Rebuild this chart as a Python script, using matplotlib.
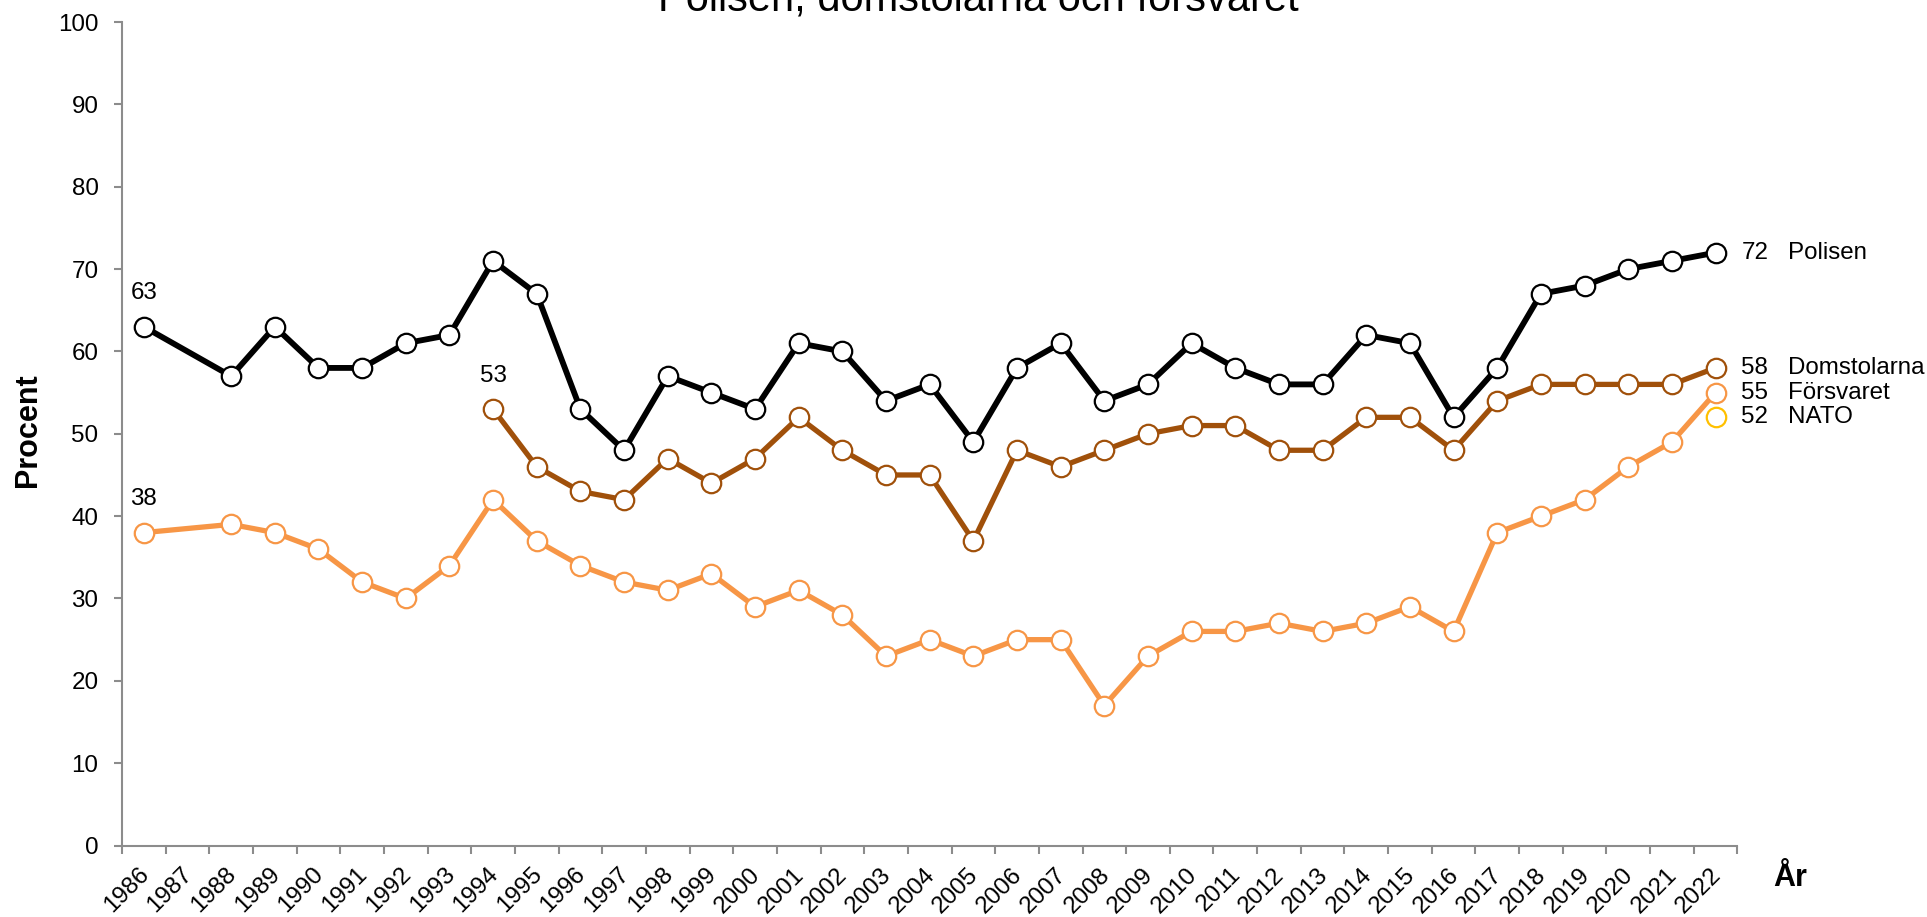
import numpy as np
import matplotlib
matplotlib.use("Agg")
import matplotlib.pyplot as plt
from matplotlib.transforms import ScaledTranslation

plt.rcParams['font.family'] = ['Liberation Sans', 'DejaVu Sans']

years = list(range(1986, 2023))
nan = np.nan

polisen = [63, nan, 57, 63, 58, 58, 61, 62, 71, 67, 53, 48, 57, 55, 53, 61, 60, 54, 56, 49,
           58, 61, 54, 56, 61, 58, 56, 56, 62, 61, 52, 58, 67, 68, 70, 71, 72]
domstolarna = [nan, nan, nan, nan, nan, nan, nan, nan, 53, 46, 43, 42, 47, 44, 47, 52, 48, 45, 45, 37,
               48, 46, 48, 50, 51, 51, 48, 48, 52, 52, 48, 54, 56, 56, 56, 56, 58]
forsvaret = [38, nan, 39, 38, 36, 32, 30, 34, 42, 37, 34, 32, 31, 33, 29, 31, 28, 23, 25, 23,
             25, 25, 17, 23, 26, 26, 27, 26, 27, 29, 26, 38, 40, 42, 46, 49, 55]
nato_years = [2022]
nato = [52]

series_names = ['Polisen', 'Domstolarna', 'Försvaret', 'NATO']
colors = {'Polisen': '#000000', 'Domstolarna': '#A0500A', 'Försvaret': '#F79646', 'NATO': '#FFC000'}

title = 'Polisen, domstolarna och försvaret'
ylabel = 'Procent'
xlabel = 'År'

FS = 17.4

W, H = 1927, 917
fig = plt.figure(figsize=(W / 100, H / 100), dpi=100)
left, right = 122 / W, 1737.4 / W
bottom, top = 1 - 845.5 / H, 1 - 22.1 / H
ax = fig.add_axes([left, bottom, right - left, top - bottom])

def plot_series(xs, ys, name, lw):
    xs = np.array(xs, dtype=float)
    ys = np.array(ys, dtype=float)
    m = ~np.isnan(ys)
    ax.plot(xs[m], ys[m], color=colors[name], lw=lw, marker='o', markersize=14,
            markerfacecolor='white', markeredgecolor=colors[name], markeredgewidth=1.6,
            solid_joinstyle='round', zorder=3)

plot_series(years, polisen, 'Polisen', 4.2)
plot_series(years, domstolarna, 'Domstolarna', 3.8)
plot_series(years, forsvaret, 'Försvaret', 3.8)
ax.plot(nato_years, nato, linestyle='none', marker='o', markersize=14, markerfacecolor='white',
        markeredgecolor=colors['NATO'], markeredgewidth=1.6, zorder=3)

ax.set_xlim(years[0] - 0.5, years[-1] + 0.5)
ax.set_ylim(0, 100)
ax.set_yticks(range(0, 101, 10))

ax.set_xticks([y - 0.5 for y in years] + [years[-1] + 0.5])
ax.set_xticklabels([])
ax.set_xticks(years, minor=True)
ax.set_xticklabels([str(y) for y in years], minor=True, rotation=45, ha='right', va='top',
                   rotation_mode='anchor', fontsize=FS)
ax.tick_params(axis='x', which='major', length=6, width=1.5, color='#8c8c8c', direction='out')
ax.tick_params(axis='x', which='minor', length=0, pad=13)
ax.tick_params(axis='y', length=6, width=1.5, color='#8c8c8c', direction='out', pad=11, labelsize=FS)
shift = ScaledTranslation(-6 / 100, 0, fig.dpi_scale_trans)
for lbl in ax.get_xticklabels(minor=True):
    lbl.set_transform(lbl.get_transform() + shift)

for s in ['top', 'right']:
    ax.spines[s].set_visible(False)
for s in ['left', 'bottom']:
    ax.spines[s].set_color('#8c8c8c')
    ax.spines[s].set_linewidth(1.5)

# end labels
ends = [('Polisen', polisen[-1]), ('Domstolarna', domstolarna[-1]),
        ('Försvaret', forsvaret[-1]), ('NATO', nato[-1])]
for name, v in ends:
    ax.annotate(f'{v:.0f}', xy=(years[-1], v), xytext=(18.5, 0), textcoords='offset points',
                ha='left', va='center', fontsize=FS, annotation_clip=False)
    ax.annotate(name, xy=(years[-1], v), xytext=(52, 0), textcoords='offset points',
                ha='left', va='center', fontsize=FS, annotation_clip=False)

# start labels
starts = [(years[0], polisen[0]), (years[0], forsvaret[0]), (1994, domstolarna[years.index(1994)])]
for x, v in starts:
    ax.annotate(f'{v:.0f}', xy=(x, v), xytext=(0, 24), textcoords='offset points',
                ha='center', va='center', fontsize=FS)

fig.text(978 / W, 1 - 10 / H, title, ha='center', va='baseline', fontsize=30)
fig.text(28 / W, 1 - 430 / H, ylabel, rotation=90, ha='center', va='center',
         fontsize=22, fontweight='bold')
fig.text(1773 / W, 1 - 886 / H, xlabel, ha='left', va='baseline', fontsize=22, fontweight='bold')

fig.savefig('out.png', dpi=100)
